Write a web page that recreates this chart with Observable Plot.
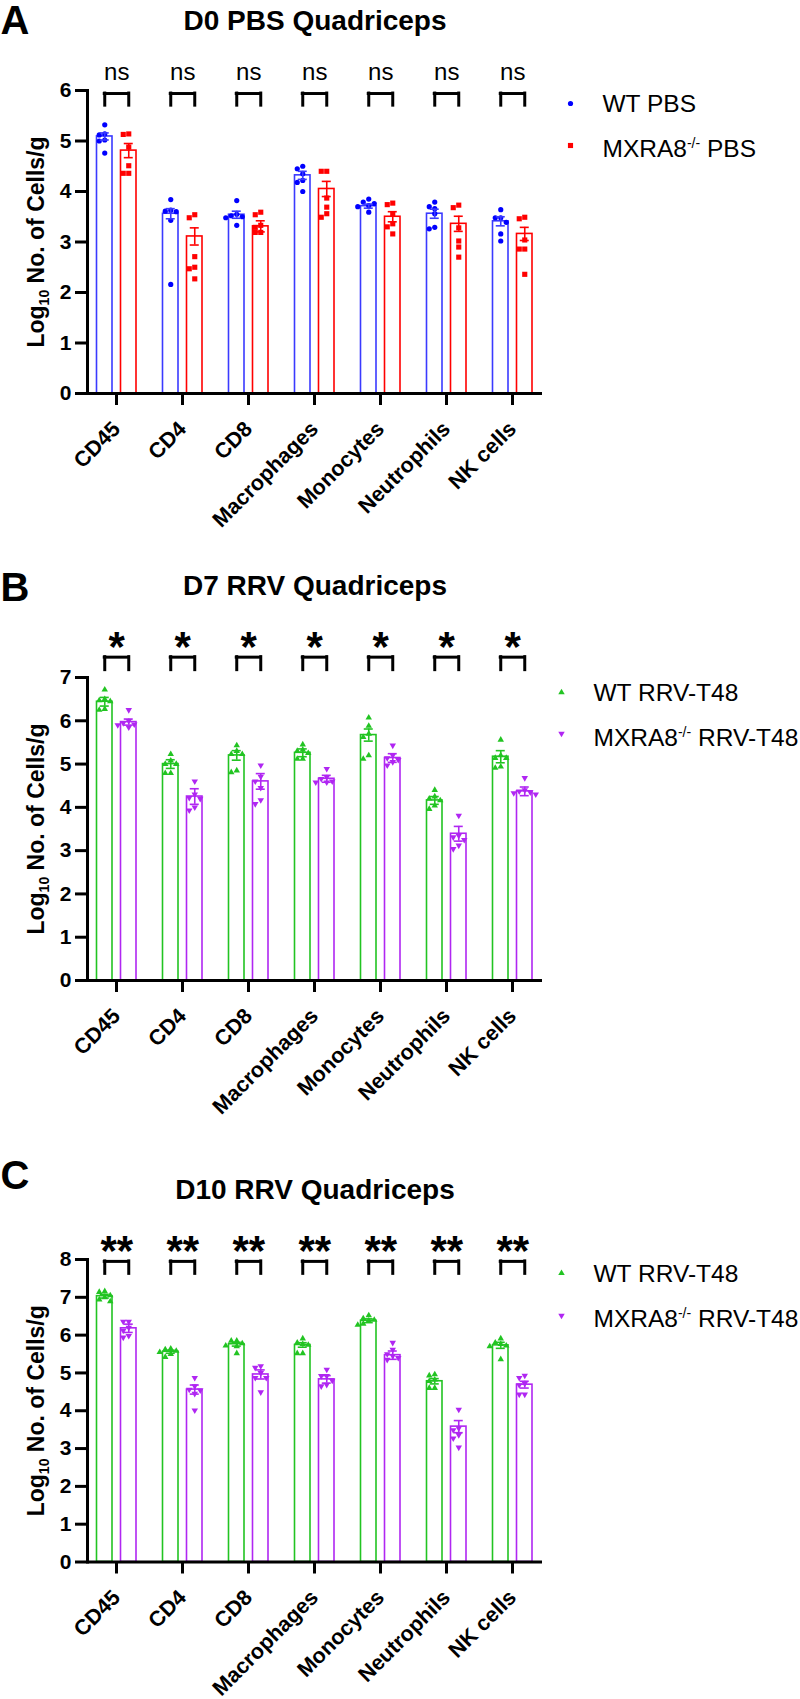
<!DOCTYPE html>
<html><head><meta charset="utf-8">
<script src="https://cdn.jsdelivr.net/npm/d3@7"></script>
<script src="https://cdn.jsdelivr.net/npm/@observablehq/plot@0.6"></script>
<style>
body{margin:0;background:#fff;font-family:"Liberation Sans",Arial,sans-serif}
svg{display:block}
</style>
</head><body><div id="chart"></div>
<script>
// ---------- data ----------
const categories = ["CD45","CD4","CD8","Macrophages","Monocytes","Neutrophils","NK cells"];

const yTicksA = [0,1,2,3,4,5,6];
const yTicksB = [0,1,2,3,4,5,6,7];
const yTicksC = [0,1,2,3,4,5,6,7,8];

const sigA = ["ns","ns","ns","ns","ns","ns","ns"];
const sigB = ["*","*","*","*","*","*","*"];
const sigC = ["**","**","**","**","**","**","**"];

// Panel A: D0 PBS
const wtPbsMean = [5.09, 3.56, 3.54, 4.32, 3.71, 3.56, 3.41];
const wtPbsSem  = [0.07, 0.10, 0.07, 0.08, 0.04, 0.09, 0.09];
const koPbsMean = [4.81, 3.11, 3.31, 4.05, 3.50, 3.36, 3.16];
const koPbsSem  = [0.14, 0.17, 0.11, 0.15, 0.10, 0.15, 0.13];
const wtPbsPoints = [
  [5.32, 5.14, 5.12, 5.02, 5.00, 4.76],
  [3.84, 3.63, 3.61, 3.60, 3.43, 2.16],
  [3.82, 3.55, 3.52, 3.50, 3.48, 3.33],
  [4.50, 4.45, 4.35, 4.22, 4.18, 4.00],
  [3.85, 3.79, 3.76, 3.72, 3.70, 3.59],
  [3.79, 3.70, 3.66, 3.56, 3.29, 3.26],
  [3.64, 3.48, 3.48, 3.39, 3.16, 3.02]
];
const koPbsPoints = [
  [5.14, 5.13, 4.88, 4.51, 4.36, 4.36],
  [3.54, 3.48, 2.71, 2.50, 2.47, 2.27],
  [3.59, 3.54, 3.33, 3.29, 3.19, 3.19],
  [4.40, 4.40, 3.87, 3.69, 3.56, 3.49],
  [3.77, 3.74, 3.55, 3.36, 3.30, 3.16],
  [3.73, 3.68, 3.28, 3.02, 2.90, 2.70],
  [3.49, 3.46, 3.04, 2.86, 2.86, 2.36]
];

// Panel B: D7 RRV
const wtD7Mean = [6.44, 5.00, 5.20, 5.26, 5.67, 4.16, 5.17];
const wtD7Sem  = [0.10, 0.10, 0.11, 0.09, 0.14, 0.09, 0.14];
const koD7Mean = [5.97, 4.25, 4.60, 4.66, 5.14, 3.39, 4.37];
const koD7Sem  = [0.07, 0.18, 0.18, 0.08, 0.10, 0.17, 0.10];
const wtD7Points = [
  [6.72, 6.50, 6.47, 6.45, 6.27, 6.25],
  [5.23, 5.08, 5.00, 5.00, 4.79, 4.79],
  [5.43, 5.30, 5.23, 5.23, 4.85, 4.81],
  [5.45, 5.33, 5.30, 5.25, 5.12, 5.12],
  [6.07, 5.88, 5.70, 5.62, 5.20, 5.12],
  [4.40, 4.25, 4.20, 4.16, 4.04, 3.96],
  [5.56, 5.20, 5.14, 5.14, 4.94, 4.91]
];
const koD7Points = [
  [6.25, 6.00, 5.95, 5.92, 5.90, 5.85],
  [4.60, 4.30, 4.22, 4.20, 4.00, 3.93],
  [4.97, 4.71, 4.60, 4.45, 4.17, 4.08],
  [4.89, 4.70, 4.66, 4.60, 4.58, 4.58],
  [5.43, 5.20, 5.14, 5.10, 5.05, 4.97],
  [3.81, 3.35, 3.31, 3.25, 3.12, 3.04],
  [4.68, 4.40, 4.37, 4.35, 4.33, 4.30]
];

// Panel C: D10 RRV
const wtD10Mean = [7.03, 5.56, 5.76, 5.74, 6.38, 4.78, 5.73];
const wtD10Sem  = [0.05, 0.04, 0.05, 0.06, 0.05, 0.07, 0.08];
const koD10Mean = [6.18, 4.56, 4.96, 4.83, 5.47, 3.58, 4.69];
const koD10Sem  = [0.11, 0.12, 0.12, 0.10, 0.11, 0.16, 0.09];
const wtD10Points = [
  [7.16, 7.14, 7.05, 7.00, 6.94, 6.89],
  [5.64, 5.62, 5.58, 5.55, 5.50, 5.42],
  [5.85, 5.85, 5.78, 5.72, 5.70, 5.52],
  [5.91, 5.80, 5.76, 5.74, 5.52, 5.52],
  [6.52, 6.44, 6.40, 6.38, 6.30, 6.27],
  [4.96, 4.93, 4.82, 4.78, 4.60, 4.60],
  [5.91, 5.80, 5.76, 5.72, 5.70, 5.36]
];
const koD10Points = [
  [6.36, 6.36, 6.20, 6.12, 5.98, 5.94],
  [4.87, 4.65, 4.56, 4.54, 4.45, 4.01],
  [5.18, 5.14, 5.00, 4.87, 4.87, 4.49],
  [5.09, 4.92, 4.92, 4.80, 4.69, 4.65],
  [5.80, 5.62, 5.50, 5.45, 5.40, 5.35],
  [4.03, 3.54, 3.49, 3.36, 3.27, 3.03],
  [4.93, 4.87, 4.72, 4.68, 4.43, 4.43]
];

const yLabel = "Log10 No. of Cells/g";

// ---------- panel configs (layout / style) ----------
const BLUE = "#0000ff", BLUE_BAR = "#3a3aff", RED = "#ff0000";
const GREEN = "#22c422", PURPLE = "#b026f2";

const panels = [
  {letter: "A", title: "D0 PBS Quadriceps", top: 0, height: 540, mTop: 90, mBottom: 147,
   yTicks: yTicksA, sig: sigA, sigSize: 24, sigWeight: "normal", sigBase: 79, bracket: [5.70, 5.94],
   letterBase: 33, titleBase: 29.5, legSymX: 570, legTextX: 602, legSymY: [103, 145], legBase: [111.7, 156.7],
   groups: [
     {name: "WT PBS", mean: wtPbsMean, sem: wtPbsSem, points: wtPbsPoints, color: BLUE, bar: BLUE_BAR, symbol: "circle", r: 2.6, rotate: 0},
     {name: "MXRA8-/- PBS", mean: koPbsMean, sem: koPbsSem, points: koPbsPoints, color: RED, bar: RED, symbol: "square", r: 2.9, rotate: 0}
   ]},
  {letter: "B", title: "D7 RRV Quadriceps", top: 540, height: 580, mTop: 137, mBottom: 140,
   yTicks: yTicksB, sig: sigB, sigSize: 42, sigWeight: "bold", sigBase: 660, bracket: [7.17, 7.47],
   letterBase: 600, titleBase: 594, legSymX: 561, legTextX: 593, legSymY: [692, 733], legBase: [700, 745.7],
   groups: [
     {name: "WT RRV-T48", mean: wtD7Mean, sem: wtD7Sem, points: wtD7Points, color: GREEN, bar: GREEN, symbol: "triangle", r: 2.4, rotate: 0},
     {name: "MXRA8-/- RRV-T48", mean: koD7Mean, sem: koD7Sem, points: koD7Points, color: PURPLE, bar: PURPLE, symbol: "triangle", r: 2.4, rotate: 180}
   ]},
  {letter: "C", title: "D10 RRV Quadriceps", top: 1120, height: 579, mTop: 139, mBottom: 137.5,
   yTicks: yTicksC, sig: sigC, sigSize: 42, sigWeight: "bold", sigBase: 1264, bracket: [7.62, 7.95],
   letterBase: 1188.3, titleBase: 1198.3, legSymX: 561, legTextX: 593, legSymY: [1272.7, 1315], legBase: [1281, 1326.7],
   groups: [
     {name: "WT RRV-T48", mean: wtD10Mean, sem: wtD10Sem, points: wtD10Points, color: GREEN, bar: GREEN, symbol: "triangle", r: 2.4, rotate: 0},
     {name: "MXRA8-/- RRV-T48", mean: koD10Mean, sem: koD10Sem, points: koD10Points, color: PURPLE, bar: PURPLE, symbol: "triangle", r: 2.4, rotate: 180}
   ]}
];

// ---------- drawing ----------
const W = 800, mLeft = 87, mRight = 258;
const STEP = 66, BAND0 = 82.5;
const CENTERS = [21.25, 45.25];   // bar centres inside a category band (px)
const BAR_HALF = 7.75, CAP_HALF = 4.5, SPREAD = 5.5;

function buildPanel(p) {
  const plotH = p.height - p.mTop - p.mBottom;
  const ymax = p.yTicks[p.yTicks.length - 1];
  const k = plotH / ymax;
  const at = (x, y) => ({x: null, y: null, frameAnchor: "top-left", dx: x - mLeft, dy: (y - p.top) - p.mTop});
  const marks = [];

  // bars
  p.groups.forEach((g, gi) => {
    const c = CENTERS[gi];
    const rows = categories.map((cat, i) => ({cat, mean: g.mean[i], sem: g.sem[i]}));
    marks.push(Plot.barY(rows, {x: "cat", y: "mean", fill: "white", stroke: g.bar, strokeWidth: 1.6,
      insetLeft: c - BAR_HALF, insetRight: STEP - c - BAR_HALF}));
  });

  // points (simple deterministic scatter layout)
  p.groups.forEach((g, gi) => {
    const off = CENTERS[gi] - STEP / 2;
    const bySlot = new Map();
    categories.forEach((cat, i) => {
      const vals = g.points[i].slice().sort((a, b) => b - a);
      const placed = [];
      vals.forEach(v => {
        const py = -v * k;
        let slot = 0;
        for (const s of [0, -1, 1, -2, 2]) {
          if (placed.every(d => Math.hypot((d.s - s) * SPREAD, d.py - py) >= 5)) { slot = s; break; }
        }
        placed.push({s: slot, py});
        if (!bySlot.has(slot)) bySlot.set(slot, []);
        bySlot.get(slot).push({cat, value: v});
      });
    });
    for (const [slot, rows] of bySlot) {
      marks.push(Plot.dot(rows, {x: "cat", y: "value", dx: off + slot * SPREAD, symbol: g.symbol, r: g.r,
        fill: g.color, stroke: "none", rotate: g.rotate}));
    }
  });

  // error bars (SEM)
  p.groups.forEach((g, gi) => {
    const c = CENTERS[gi];
    const rows = categories.map((cat, i) => ({cat, mean: g.mean[i], sem: g.sem[i]}));
    marks.push(Plot.ruleX(rows, {x: "cat", y1: d => d.mean - d.sem, y2: d => d.mean + d.sem, dx: c - STEP / 2, stroke: g.bar, strokeWidth: 1.6}));
    for (const f of [d => d.mean + d.sem, d => d.mean - d.sem]) {
      marks.push(Plot.tickY(rows, {x: "cat", y: f, insetLeft: c - CAP_HALF, insetRight: STEP - c - CAP_HALF, stroke: g.bar, strokeWidth: 1.6}));
    }
  });

  // significance brackets
  const [lo, hi] = p.bracket;
  for (const c of CENTERS) {
    marks.push(Plot.ruleX(categories, {x: d => d, y1: lo, y2: hi, dx: c - STEP / 2, stroke: "black", strokeWidth: 3, strokeLinecap: "square"}));
  }
  marks.push(Plot.tickY(categories, {x: d => d, y: hi, insetLeft: CENTERS[0], insetRight: STEP - CENTERS[1], stroke: "black", strokeWidth: 3, strokeLinecap: "square"}));
  marks.push(Plot.text(categories, {x: d => d, text: p.sig, frameAnchor: "top", dy: (p.sigBase - p.top) - p.mTop,
    lineAnchor: "bottom", fontSize: p.sigSize, fontWeight: p.sigWeight, dx: 0.25}));

  // axes
  marks.push(Plot.axisY(p.yTicks, {tickSize: 12, strokeWidth: 3, tickPadding: 4, fontSize: 21, fontWeight: "bold", label: null, tickFormat: d => String(d)}));
  marks.push(Plot.axisX({tickSize: 12, strokeWidth: 3, tickRotate: -45, tickPadding: 20, fontSize: 21.5, fontWeight: "bold", label: null}));
  marks.push(Plot.ruleY([0], {strokeWidth: 3}));
  marks.push(Plot.frame({anchor: "left", strokeWidth: 3}));

  // y label
  marks.push(Plot.text([yLabel], {x: null, y: null, text: d => d, frameAnchor: "left", dx: -43.7, rotate: -90,
    lineAnchor: "bottom", textAnchor: "middle", fontSize: 23, fontWeight: "bold"}));

  // title & panel letter
  marks.push(Plot.text([p.title], {text: d => d, ...at((mLeft + W - mRight) / 2, p.titleBase), textAnchor: "middle", lineAnchor: "bottom", fontSize: 28, fontWeight: "bold"}));
  marks.push(Plot.text([p.letter], {text: d => d, ...at(0, p.letterBase), textAnchor: "start", lineAnchor: "bottom", fontSize: 40, fontWeight: "bold"}));

  // legend
  p.groups.forEach((g, gi) => {
    marks.push(Plot.dot([g.name], {...at(p.legSymX, p.legSymY[gi]), symbol: g.symbol, r: g.r, fill: g.color, stroke: "none", rotate: g.rotate}));
    marks.push(Plot.text([g.name], {text: d => d, ...at(p.legTextX, p.legBase[gi]), textAnchor: "start", lineAnchor: "bottom", fontSize: 24.5}));
  });

  const svg = Plot.plot({
    width: W, height: p.height,
    marginTop: p.mTop, marginBottom: p.mBottom, marginLeft: mLeft, marginRight: mRight,
    x: {type: "band", domain: categories, range: [BAND0, BAND0 + STEP * categories.length], padding: 0},
    y: {domain: [0, ymax]},
    style: {fontFamily: '"Liberation Sans", Arial, sans-serif', fontSize: "20px", background: "white", overflow: "visible", color: "black"},
    marks
  });
  richText(svg);
  return svg;
}

// sub/superscripts
function richText(svg) {
  d3.select(svg).selectAll("text").each(function () {
    const t = this.textContent;
    const s = d3.select(this);
    if (t === yLabel) {
      s.text(null);
      s.append("tspan").text("Log");
      s.append("tspan").attr("font-size", "14px").attr("dy", 5).text("10");
      s.append("tspan").attr("dy", -5).text(" No. of Cells/g");
    } else if (t.startsWith("MXRA8-/-")) {
      s.text(null);
      s.append("tspan").text("MXRA8");
      s.append("tspan").attr("font-size", "14px").attr("dy", -9).text("-/-");
      s.append("tspan").attr("dy", 9).text(t.slice(8));
    }
  });
}

const root = document.getElementById("chart");
for (const p of panels) root.appendChild(buildPanel(p));
</script>
</body></html>
